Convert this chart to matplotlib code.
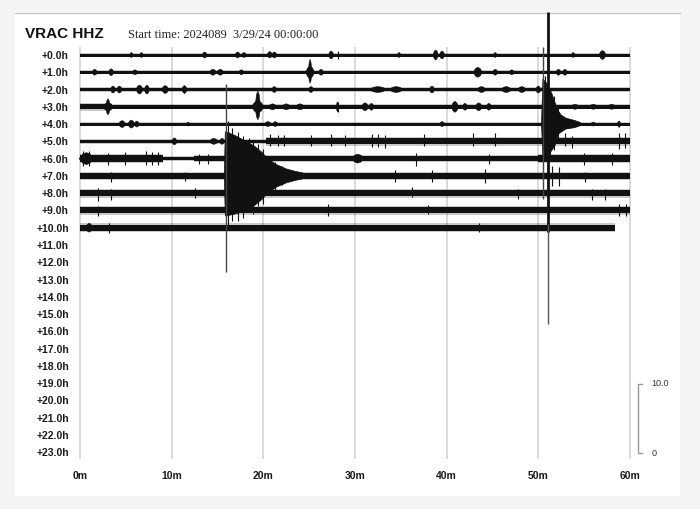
import matplotlib
matplotlib.use("Agg")
import matplotlib.pyplot as plt
from matplotlib.patches import Rectangle
from matplotlib.lines import Line2D

# ---------------- data ----------------
STATION = "VRAC HHZ"
START_TEXT = "Start time: 2024089  3/29/24 00:00:00"
HOUR_LABELS = ["+0.0h", "+1.0h", "+2.0h", "+3.0h", "+4.0h", "+5.0h", "+6.0h",
               "+7.0h", "+8.0h", "+9.0h", "+10.0h", "+11.0h", "+12.0h",
               "+13.0h", "+14.0h", "+15.0h", "+16.0h", "+17.0h", "+18.0h",
               "+19.0h", "+20.0h", "+21.0h", "+22.0h", "+23.0h"]
MINUTE_TICKS = [0, 10, 20, 30, 40, 50, 60]
MINUTE_LABELS = ["0m", "10m", "20m", "30m", "40m", "50m", "60m"]
SCALE_LABELS = ["10.0", "0"]

# background noise half-width (px) per recorded row: (start min, end min, half)
BASE_NOISE = [
    [(0, 60, 1.5)],
    [(0, 60, 1.5)],
    [(0, 60, 1.8)],
    [(0, 3.5, 2.6), (3.5, 60, 1.8)],
    [(0, 60, 1.5)],
    [(0, 20.3, 1.8), (20.3, 60, 3.0)],
    [(0, 9.0, 3.2), (9.0, 12.4, 1.8), (12.4, 50.0, 2.6), (50.0, 60, 3.2)],
    [(0, 60, 3.0)],
    [(0, 60, 3.0)],
    [(0, 60, 3.0)],
    [(0, 58.4, 3.0)],
]

# wave packets: (minute, up px, down px, half-width min)
BUMPS = [
    [(5.6, 2.5, 2.5, 0.2), (6.7, 2.5, 2.5, 0.2), (13.6, 3, 3, 0.3), (17.2, 3, 3, 0.3),
     (17.9, 2.5, 2.5, 0.3), (20.7, 3.5, 3, 0.3), (21.2, 3, 3, 0.3), (27.4, 4, 4, 0.3),
     (34.8, 2.5, 2.5, 0.2), (38.8, 5, 5, 0.3), (39.5, 4, 4, 0.3), (45.3, 2.5, 2.5, 0.2),
     (53.8, 2.5, 2.5, 0.2), (57.0, 4.5, 4.5, 0.4)],
    [(1.6, 3, 3, 0.3), (3.4, 3.5, 3.5, 0.3), (6.0, 2.5, 2.5, 0.3), (14.5, 3, 3, 0.4),
     (15.3, 3, 3, 0.4), (17.6, 2.5, 2.5, 0.3), (25.1, 13, 11, 0.2), (25.1, 6, 6, 0.5),
     (26.3, 3, 3, 0.3), (43.4, 5, 5, 0.5), (45.3, 3, 3, 0.3), (47.1, 2.5, 2.5, 0.3),
     (52.2, 3, 3, 0.3), (52.9, 3, 3, 0.3)],
    [(3.6, 3.5, 3.5, 0.3), (4.3, 3.5, 3.5, 0.3), (6.5, 4.5, 4.5, 0.4), (7.3, 4.5, 4.5, 0.3),
     (9.3, 4, 4, 0.4), (11.4, 4, 4, 0.3), (21.2, 3, 3, 0.3), (25.2, 3, 3, 0.3),
     (32.5, 3, 3, 1.0), (34.5, 3, 3, 0.8), (38.4, 3.5, 3.5, 0.3), (43.8, 3, 3, 0.5),
     (46.5, 3, 3, 0.6), (48.2, 3, 3, 0.5), (50.0, 3.5, 3.5, 0.3)],
    [(3.05, 8, 8, 0.25), (3.05, 4, 4, 0.6), (19.4, 16, 13, 0.3), (19.4, 6, 6, 0.7),
     (21.0, 3, 3, 0.5), (22.5, 3, 3, 0.5), (24.0, 3, 3, 0.5), (28.1, 5, 5, 0.15),
     (31.1, 4, 4, 0.4), (31.8, 3.5, 3.5, 0.3), (40.9, 5.5, 5.5, 0.4), (42.0, 3.5, 3.5, 0.3),
     (43.5, 4, 4, 0.4), (44.6, 3.5, 3.5, 0.3), (54.0, 2.5, 2.5, 0.5), (56.0, 2.5, 2.5, 0.5),
     (58.0, 2.5, 2.5, 0.5)],
    [(4.6, 3.5, 3.5, 0.4), (5.6, 4, 4, 0.4), (6.2, 3, 3, 0.3), (11.8, 2, 2, 0.2),
     (20.5, 2.5, 2.5, 0.4), (21.3, 2.5, 2.5, 0.3), (39.5, 2.5, 2.5, 0.3), (56.0, 2, 2, 0.3),
     (58.8, 3, 3, 0.2)],
    [(10.3, 3.5, 3.5, 0.3), (14.6, 3, 3, 0.5), (15.5, 3, 3, 0.3)],
    [(0.7, 6, 6, 0.8), (30.3, 4.5, 4.5, 0.7)],
    [],
    [],
    [],
    [(1.0, 4.5, 4.5, 0.4)],
]

# short spikes: (minute, up px, down px)
SPIKES = [
    [(28.1, 4, 4)], [], [], [(28.1, 5, 5)], [(58.8, 3, 3)],
    [(20.7, 7, 5), (21.6, 6, 5), (22.3, 6, 5), (25.2, 6, 5), (27.4, 7, 5), (28.9, 6, 5),
     (31.8, 7, 6), (32.5, 7, 6), (33.3, 6, 7), (37.5, 7, 5), (42.9, 8, 5), (45.3, 8, 5),
     (52.9, 8, 5), (53.7, 5, 7), (58.8, 8, 8), (59.5, 8, 7)],
    [(0.3, 8, 7), (1.0, 8, 7), (3.0, 6, 6), (4.9, 7, 6), (7.2, 8, 6), (7.8, 7, 6),
     (8.5, 7, 6), (13.0, 5, 5), (14.0, 5, 5), (36.6, 6, 7), (44.6, 5, 5), (55.0, 6, 6),
     (58.0, 6, 6)],
    [(3.4, 4, 6), (11.4, 4, 5), (34.4, 6, 6), (38.4, 6, 6), (44.2, 7, 7), (51.5, 10, 10),
     (52.2, 9, 10), (55.1, 4, 6)],
    [(2.0, 5, 8), (3.4, 4, 7), (12.5, 5, 5), (36.2, 6, 4), (47.8, 4, 6), (55.8, 4, 7),
     (57.3, 4, 7)],
    [(2.0, 4, 6), (27.1, 6, 6), (38.0, 5, 4), (58.8, 6, 6), (59.6, 6, 6)],
    [(3.2, 5, 5), (43.5, 5, 4)],
]

# earthquake at ~16 min on the +7.0h line: envelope (minute, up px, down px)
EQ1_ROW = 7
EQ1_MIN = [15.75, 15.85, 16.0, 17.0, 18.0, 19.0, 19.8, 20.5, 21.5, 22.5, 23.5, 24.3]
EQ1_UP = [3.0, 44, 44, 40, 35, 30, 24, 17, 11, 7, 4.5, 3.0]
EQ1_DOWN = [3.0, 40, 40, 38, 34, 30, 24, 17, 11, 7, 4.5, 3.0]
# coda wiggles: (minute, up px, down px)
EQ1_CODA = [(16.2, 55, 50), (16.6, 48, 45), (17.2, 44, 45), (17.8, 40, 42),
            (18.4, 38, 36), (18.9, 36, 38), (19.4, 32, 30), (20.0, 27, 28),
            (20.6, 20, 18), (21.3, 14, 14), (22.0, 10, 9)]

# earthquake at ~51 min on the +4.0h line
EQ2_ROW = 4
EQ2_MIN = [50.35, 50.5, 51.0, 51.5, 51.8, 52.2, 52.5, 53.0, 54.0, 54.6]
EQ2_UP = [1.5, 45, 40, 30, 22, 13, 9, 6, 3.5, 1.5]
EQ2_DOWN = [1.5, 33, 32, 26, 22, 10, 8, 5, 3.5, 1.5]
EQ2_CODA = [(50.7, 48, 36), (51.3, 36, 34), (51.7, 28, 26), (52.1, 18, 14)]

# large excursions: (row, minute, up px, down px)
LONG_SPIKES = [(7, 15.93, 92, 96), (4, 50.5, 77, 75)]
MAIN_SPIKE = (4, 51.05, 112, 200)

# ---------------- layout ----------------
W, H = 700, 510
X0_PX, X60_PX = 80.0, 630.0
ROW0_PX, ROW_PX = 56.0, 17.27
PX_MIN = (X60_PX - X0_PX) / 60.0


def mx(px):
    return (px - X0_PX) / PX_MIN


def ry(py):
    return (py - ROW0_PX) / ROW_PX


K = 1.0 / ROW_PX  # rows per pixel

plt.rcParams['font.family'] = ['Liberation Sans', 'DejaVu Sans']
fig = plt.figure(figsize=(W / 100, H / 100), dpi=100)
fig.patch.set_facecolor('#f4f4f4')
fig.patches.append(Rectangle((15 / W, 1 - 497 / H), 665 / W, 484 / H,
                             transform=fig.transFigure, facecolor='white',
                             edgecolor='none', zorder=-2))
fig.lines.append(Line2D([15 / W, 680 / W], [1 - 13.5 / H, 1 - 13.5 / H],
                        transform=fig.transFigure, color='#c4c4c4', lw=1.0, zorder=-1))

ax = fig.add_axes([0, 0, 1, 1])
ax.set_xlim(mx(0), mx(W))
ax.set_ylim(ry(H), ry(0))
ax.axis('off')
ax.patch.set_visible(False)

# grid
ax.vlines(MINUTE_TICKS, ry(48), ry(460), color='#d4d4d4', lw=1.2, zorder=1)

INK = '#111111'


def bump(c, up, dn, w, r):
    xs = [c - w, c - 0.5 * w, c, c + 0.5 * w, c + w,
          c + 0.5 * w, c, c - 0.5 * w]
    ys = [r, r - 0.75 * up * K, r - up * K, r - 0.75 * up * K, r,
          r + 0.75 * dn * K, r + dn * K, r + 0.75 * dn * K]
    ax.fill(xs, ys, color=INK, lw=0.4, zorder=3)


for r, segs in enumerate(BASE_NOISE):
    for (a, b, h) in segs:
        ax.fill_between([a, b], r - 1.45 * h * K, r + 1.45 * h * K, color=INK,
                        alpha=0.22, lw=0, zorder=2)
        ax.fill_between([a, b], r - h * K, r + h * K, color=INK, lw=0, zorder=3)
    for (c, up, dn, w) in BUMPS[r]:
        bump(c, up, dn, w, r)
    for (c, up, dn) in SPIKES[r]:
        ax.vlines(c, r - up * K, r + dn * K, color=INK, lw=0.8, zorder=3)

for row, mins, ups, dns, coda in [(EQ1_ROW, EQ1_MIN, EQ1_UP, EQ1_DOWN, EQ1_CODA),
                                  (EQ2_ROW, EQ2_MIN, EQ2_UP, EQ2_DOWN, EQ2_CODA)]:
    xs = list(mins) + list(mins[::-1])
    ys = [row - u * K for u in ups] + [row + d * K for d in dns[::-1]]
    ax.fill(xs, ys, color=INK, lw=0.5, zorder=4)
    for (c, up, dn) in coda:
        ax.vlines(c, row - up * K, row + dn * K, color=INK, lw=0.8, zorder=4)

for (row, m, up, dn) in LONG_SPIKES:
    ax.vlines(m, row - up * K, row + dn * K, color='#444444', lw=1.0, zorder=4)

row, m, up, dn = MAIN_SPIKE
ax.vlines(m, row - up * K, row + 0.54 * dn * K, color=INK, lw=2.0, zorder=5)
ax.vlines(m, row + 0.5 * dn * K, row + dn * K, color='#555555', lw=1.0, zorder=5)

# labels
for r, lab in enumerate(HOUR_LABELS):
    ax.text(mx(69), r, lab, ha='right', va='center', fontsize=7.5,
            fontweight='bold', color='#1a1a1a')
for t, lab in zip(MINUTE_TICKS, MINUTE_LABELS):
    ax.text(t, ry(476), lab, ha='center', va='center', fontsize=7.5,
            fontweight='bold', color='#1a1a1a')

fig.text(25 / W, 1 - 38.5 / H, STATION, ha='left', va='baseline', fontsize=11,
         fontweight='bold', color='#111111')
fig.text(127.5 / W, 1 - 37.5 / H, START_TEXT, ha='left', va='baseline', fontsize=8.9,
         family=['Liberation Serif', 'DejaVu Serif'], color='#222222')

# amplitude scale bar
sx = mx(637.7)
ax.plot([mx(642), sx, sx, mx(642)], [ry(385), ry(385), ry(454), ry(454)],
        color='#9a9a9a', lw=1.0, zorder=2)
ax.text(mx(651.5), ry(384), SCALE_LABELS[0], ha='left', va='center', fontsize=6.5,
        color='#333333')
ax.text(mx(651.5), ry(454), SCALE_LABELS[1], ha='left', va='center', fontsize=6.5,
        color='#333333')

fig.savefig('out.png', dpi=100, facecolor=fig.get_facecolor())
